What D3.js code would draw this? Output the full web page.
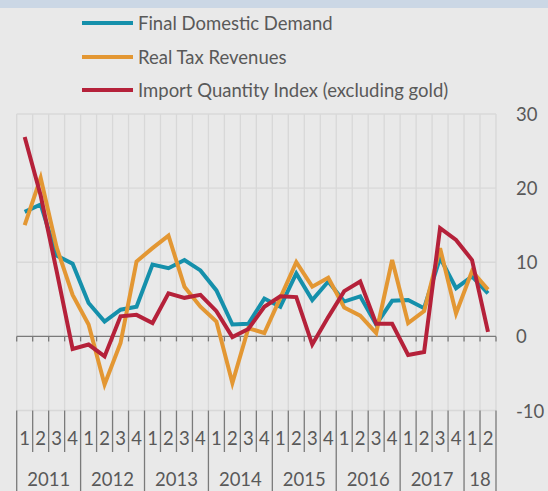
<!DOCTYPE html>
<html>
<head>
<meta charset="utf-8">
<script src="https://cdn.jsdelivr.net/npm/d3@7"></script>
<style>
  body { margin: 0; background: #e9e9e9; }
  svg { display: block; font-family: Lato, "Open Sans", sans-serif; }
</style>
</head>
<body>
<div id="chart"></div>
<script>
// quarters 2011Q1 .. 2018Q2
var years = ["2011", "2012", "2013", "2014", "2015", "2016", "2017", "18"];
var quarterLabels = ["1","2","3","4","1","2","3","4","1","2","3","4","1","2","3","4",
  "1","2","3","4","1","2","3","4","1","2","3","4","1","2"];
var yTicks = [-10, 0, 10, 20, 30];

var seriesNames = ["Final Domestic Demand", "Real Tax Revenues", "Import Quantity Index (excluding gold)"];

var finalDemand = [16.8, 17.8, 10.9, 9.8, 4.5, 2.0, 3.6, 4.0, 9.7, 9.2,
  10.3, 8.9, 6.2, 1.6, 1.7, 5.1, 4.0, 8.5, 4.9, 7.4,
  4.7, 5.4, 1.6, 4.8, 4.9, 3.8, 10.6, 6.5, 8.1, 5.8];
var taxRevenues = [15.0, 21.4, 12.0, 5.6, 1.6, -6.5, -0.9, 10.1, 11.9, 13.6,
  6.7, 4.0, 2.0, -6.3, 1.1, 0.45, 5.2, 10.0, 6.7, 7.9,
  3.9, 2.8, 0.45, 10.3, 1.8, 3.4, 11.9, 3.1, 8.8, 6.3];
var importQty = [26.9, 19.0, 8.8, -1.7, -1.1, -2.7, 2.7, 2.9, 1.8, 5.8,
  5.2, 5.6, 3.4, -0.1, 1.0, 4.0, 5.4, 5.3, -1.1, 2.6,
  6.1, 7.4, 1.7, 1.7, -2.5, -2.1, 14.6, 13.0, 10.3, 0.6];

var colors = ["#1590ab", "#e39733", "#b5213a"];

var width = 548, height = 491;
var plotLeft = 16.7, plotRight = 496, plotTop = 114, plotBottom = 410.5;
var fontSize = "18.5px";

var svg = d3.select("#chart").append("svg")
  .attr("width", width)
  .attr("height", height);

svg.append("rect").attr("width", width).attr("height", height).attr("fill", "#e9e9e9");
svg.append("rect").attr("width", width).attr("height", 8).attr("fill", "#cbd7e5");

var idx = d3.range(quarterLabels.length);
var x = d3.scaleBand().domain(idx).range([plotLeft, plotRight]);
var y = d3.scaleLinear().domain([-10, 30]).range([plotBottom, plotTop]);

function edge(d) { return plotLeft + d * x.bandwidth(); }

// grid
var grid = svg.append("g");
grid.selectAll("line.v")
  .data(d3.range(quarterLabels.length + 1))
  .enter().append("line")
  .attr("x1", edge).attr("x2", edge)
  .attr("y1", plotTop).attr("y2", plotBottom)
  .attr("stroke", "#d8d8d8").attr("stroke-width", 1.3);
grid.selectAll("line.h")
  .data(yTicks.filter(function (d) { return d != 0; }))
  .enter().append("line")
  .attr("x1", plotLeft).attr("x2", plotRight)
  .attr("y1", function (d) { return y(d); })
  .attr("y2", function (d) { return y(d); })
  .attr("stroke", "#d8d8d8").attr("stroke-width", 1.3);

// zero axis with ticks
svg.append("line")
  .attr("x1", plotLeft).attr("x2", plotRight)
  .attr("y1", y(0)).attr("y2", y(0))
  .attr("stroke", "#7a7a7a").attr("stroke-width", 1.3);
svg.append("g").selectAll("line")
  .data(d3.range(quarterLabels.length + 1))
  .enter().append("line")
  .attr("x1", edge).attr("x2", edge)
  .attr("y1", y(0)).attr("y2", y(0) + 5)
  .attr("stroke", "#7a7a7a").attr("stroke-width", 1.3);

// right axis labels
svg.append("g").selectAll("text")
  .data(yTicks)
  .enter().append("text")
  .attr("x", 516)
  .attr("y", function (d) { return y(d) + 7; })
  .attr("fill", "#595959")
  .style("font-size", fontSize)
  .text(function (d) { return d; });

// lines
var line = d3.line()
  .x(function (d, i) { return x(i) + x.bandwidth() / 2; })
  .y(function (d) { return y(d); });

var allSeries = [finalDemand, taxRevenues, importQty];
svg.append("g").selectAll("path")
  .data(allSeries)
  .enter().append("path")
  .attr("d", line)
  .attr("fill", "none")
  .attr("stroke", function (d, i) { return colors[i]; })
  .attr("stroke-width", 4)
  .attr("stroke-linejoin", "miter");

// category axis table
var tbl = svg.append("g");
tbl.selectAll("line.q")
  .data(d3.range(quarterLabels.length + 1))
  .enter().append("line")
  .attr("x1", edge).attr("x2", edge)
  .attr("y1", plotBottom)
  .attr("y2", function (d) { return (d % 4 == 0 || d == quarterLabels.length) ? height : 452; })
  .attr("stroke", "#7a7a7a").attr("stroke-width", 1.3);

tbl.selectAll("text.q")
  .data(quarterLabels)
  .enter().append("text")
  .attr("x", function (d, i) { return x(i) + x.bandwidth() / 2; })
  .attr("y", 445)
  .attr("text-anchor", "middle")
  .attr("fill", "#595959")
  .style("font-size", fontSize)
  .text(function (d) { return d; });

tbl.selectAll("text.y")
  .data(years)
  .enter().append("text")
  .attr("x", function (d, i) {
    var a = i * 4, b = Math.min(i * 4 + 4, quarterLabels.length);
    return plotLeft + (a + b) / 2 * x.bandwidth();
  })
  .attr("y", 486)
  .attr("text-anchor", "middle")
  .attr("fill", "#595959")
  .style("font-size", fontSize)
  .text(function (d) { return d; });

// legend
var legend = svg.append("g").selectAll("g")
  .data(seriesNames)
  .enter().append("g")
  .attr("transform", function (d, i) { return "translate(0," + [23, 57, 90][i] + ")"; });
legend.append("line")
  .attr("x1", 82).attr("x2", 133)
  .attr("stroke", function (d, i) { return colors[i]; })
  .attr("stroke-width", 4);
legend.append("text")
  .attr("x", 138).attr("y", 6.5)
  .attr("fill", "#595959")
  .style("font-size", fontSize)
  .text(function (d) { return d; });
</script>
</body>
</html>
